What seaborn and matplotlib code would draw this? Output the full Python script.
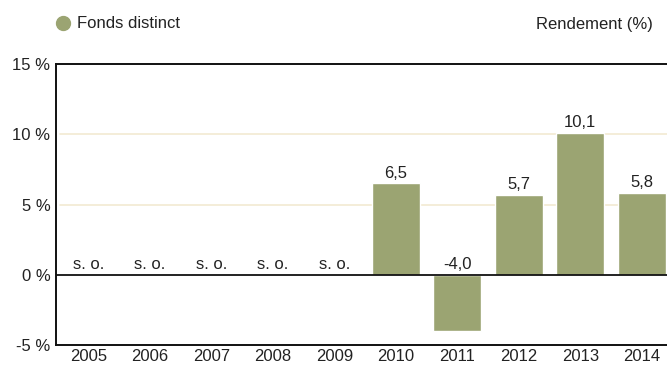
import matplotlib
matplotlib.use("Agg")
import matplotlib.pyplot as plt
from matplotlib.lines import Line2D
import seaborn as sns
import pandas as pd

# Annual returns of the segregated fund (None = not available, "s. o.")
years = ["2005", "2006", "2007", "2008", "2009", "2010", "2011", "2012", "2013", "2014"]
returns = [None, None, None, None, None, 6.5, -4.0, 5.7, 10.1, 5.8]
y_ticks = [-5, 0, 5, 10, 15]
y_tick_labels = ["-5 %", "0 %", "5 %", "10 %", "15 %"]
series_name = "Fonds distinct"
unit_label = "Rendement (%)"
missing_label = "s. o."

bar_color = "#9BA472"
grid_color = "#F2EAD2"
text_color = "#222222"
fs = 12

sns.set_theme(style="white")
plt.rcParams["font.family"] = ["Liberation Sans", "DejaVu Sans"]

df = pd.DataFrame({"year": years, "value": returns}).dropna()

fig = plt.figure(figsize=(6.67, 3.73), dpi=100)
ax = fig.add_axes([56 / 667, 28 / 373, 611 / 667, 281 / 373])

sns.barplot(data=df, x="year", y="value", order=years, color=bar_color,
            width=0.78, saturation=1, ax=ax, zorder=3)

ax.set_xlim(-0.53, 9.41)
ax.set_ylim(-5, 15)

# light reference lines at the intermediate ticks
for t in y_ticks:
    if t not in (y_ticks[0], 0, y_ticks[-1]):
        ax.axhline(t, xmin=0.007, color=grid_color, lw=1.2, zorder=1)
ax.axhline(0, color="#111111", lw=1.3, zorder=4)

ax.set_yticks(y_ticks)
ax.set_yticklabels(y_tick_labels)
ax.set_xlabel("")
ax.set_ylabel("")
ax.tick_params(axis="both", length=0, labelsize=fs, colors=text_color)
ax.tick_params(axis="y", pad=4)
ax.tick_params(axis="x", pad=3)

for side in ("left", "top", "bottom"):
    ax.spines[side].set_visible(True)
    ax.spines[side].set_color("#111111")
    ax.spines[side].set_linewidth(1.4)
ax.spines["right"].set_visible(False)

# value labels above each bar (or above the zero line)
for i, v in enumerate(returns):
    if v is None:
        txt, y = missing_label, 0
    else:
        txt, y = f"{v:.1f}".replace(".", ","), max(v, 0)
    ax.annotate(txt, (i, y), xytext=(0, 2), textcoords="offset points",
                ha="center", va="bottom", fontsize=fs, color=text_color, zorder=5)

handle = Line2D([], [], marker="o", linestyle="none", markersize=10,
                markerfacecolor=bar_color, markeredgecolor=bar_color)
fig.legend([handle], [series_name], loc="center left",
           bbox_to_anchor=(45 / 667, 1 - 24 / 373), frameon=False,
           fontsize=fs, handletextpad=0.2, borderpad=0, handlelength=1.2,
           labelcolor=text_color)
fig.text(653 / 667, 1 - 24 / 373, unit_label, ha="right", va="center",
         fontsize=fs, color=text_color)

fig.savefig("out.png", dpi=100)
